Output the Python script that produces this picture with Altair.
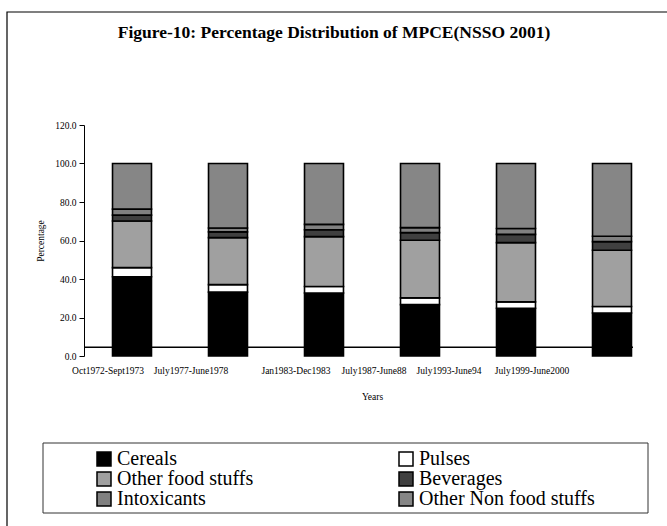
import altair as alt
import pandas as pd

periods = ["Oct1972-Sept1973", "July1977-June1978", "Jan1983-Dec1983",
           "July1987-June88", "July1993-June94", "July1999-June2000"]
categories = ["Cereals", "Pulses", "Other food stuffs", "Beverages",
              "Intoxicants", "Other Non food stuffs"]
cereals = [41.2, 33.2, 32.7, 26.7, 24.8, 22.3]
pulses = [4.7, 3.9, 3.4, 3.5, 3.3, 3.4]
other_food = [24.2, 24.4, 25.9, 29.9, 30.8, 29.2]
beverages = [3.1, 3.0, 3.6, 4.0, 4.3, 4.5]
intoxicants = [3.1, 2.0, 2.8, 2.6, 3.0, 2.8]
other_nonfood = [23.7, 33.5, 31.6, 33.3, 33.8, 37.8]
y_ticks = [0, 20, 40, 60, 80, 100, 120]
axis_cross = 4.5
title_text = "Figure-10: Percentage Distribution of MPCE(NSSO 2001)"

series = [cereals, pulses, other_food, beverages, intoxicants, other_nonfood]
rows = []
for ci, (cat, vals) in enumerate(zip(categories, series)):
    for p, v in zip(periods, vals):
        rows.append({"period": p, "category": cat, "value": v, "order": ci})
df = pd.DataFrame(rows)

colors = ["#000000", "#ffffff", "#a0a0a0", "#404040", "#808080", "#868686"]
label_shift = [-24, -37, -28, -46, -67, -80]
FONT = "Liberation Serif"

one = pd.DataFrame({"k": [0]})

frame = alt.Chart(one).mark_rect(fill=None, stroke="black", strokeWidth=1.2).encode(
    x=alt.value(-77), x2=alt.value(620), y=alt.value(-113), y2=alt.value(480)
)
legend_box = alt.Chart(one).mark_rect(fill="white", stroke="#333333", strokeWidth=1).encode(
    x=alt.value(-41), x2=alt.value(564), y=alt.value(318), y2=alt.value(388)
)
title = alt.Chart(one).mark_text(font=FONT, fontSize=17.5, fontWeight="bold", color="black",
                                 align="center", baseline="middle").encode(
    x=alt.value(250), y=alt.value(-92), text=alt.value(title_text)
)

y_axis = alt.Axis(title="Percentage", values=y_ticks, format=".1f", grid=False,
                  labelOverlap=False, domainColor="black", tickColor="black",
                  tickSize=5, labelFont=FONT, labelFontSize=9.5, labelColor="black",
                  labelPadding=3, titleFont=FONT, titleFontSize=9.5,
                  titleFontWeight="normal", titleColor="black", titlePadding=9)
y_scale = alt.Scale(domain=[0, 120], nice=False)

bars = alt.Chart(df).mark_bar(stroke="black", strokeWidth=1.6).encode(
    x=alt.X("period:N", sort=periods,
            scale=alt.Scale(paddingInner=0.594, paddingOuter=0.297),
            axis=alt.Axis(title="Years", labelAngle=0, domain=False, ticks=False,
                          tickSize=0, labelPadding=9, labelOverlap=False,
                          labelFont=FONT, labelFontSize=9.5, labelColor="black",
                          labelOffset=alt.ExprRef(f"{label_shift}[indexof({periods}, datum.value)]"),
                          titleFont=FONT, titleFontSize=9.5, titleFontWeight="normal",
                          titleColor="black", titlePadding=17)),
    y=alt.Y("value:Q", stack="zero", scale=y_scale, axis=y_axis),
    fill=alt.Fill("category:N", sort=categories,
                  scale=alt.Scale(domain=categories, range=colors),
                  legend=alt.Legend(title=None, orient="none", legendX=10, legendY=324,
                                    direction="horizontal", columns=2, columnPadding=142,
                                    rowPadding=0, symbolType="square", symbolSize=196,
                                    symbolStrokeColor="black", symbolStrokeWidth=1.5,
                                    labelFont=FONT, labelFontSize=20, labelColor="black",
                                    labelOffset=3, labelLimit=400)),
    order=alt.Order("order:Q"),
)

rule = alt.Chart(one).mark_rule(color="black", strokeWidth=1.5).encode(
    x=alt.value(0), x2=alt.value(549),
    y=alt.YDatum(axis_cross, type="quantitative", scale=y_scale, axis=y_axis, title="Percentage")
)

chart = alt.layer(frame, legend_box, title, bars, rule).properties(
    width=576, height=231,
    padding={"left": 84, "top": 125, "right": 7, "bottom": 170},
    autosize=alt.AutoSizeParams(type="none"),
).configure(background="white").configure_view(stroke=None)

chart.save("out.html", embed_options={"renderer": "svg", "actions": False})
